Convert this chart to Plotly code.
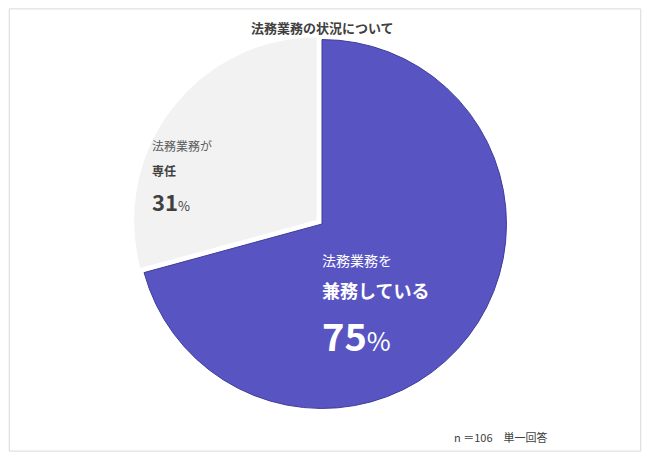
import plotly.graph_objects as go

labels = ["法務業務を兼務している", "法務業務が専任"]
values = [75, 31]
colors = ["#5855C3", "#F2F2F2"]

W, H = 634, 444
OFF = 8
def px(x): return (x - OFF) / W
def py(y): return 1 - (y - OFF) / H

fig = go.Figure(go.Pie(
    labels=labels, values=values, sort=False, direction="clockwise", rotation=0,
    marker=dict(colors=colors, line=dict(color=["#3E3C9A", "#FFFFFF"], width=[1, 2])),
    pull=[0, 0.03], textinfo="none", hoverinfo="label+value", showlegend=False,
    domain=dict(x=[px(132), px(512)], y=[py(414), py(34)]),
))

F = "Noto Sans CJK JP"
ann = [
    dict(x=px(322), y=py(27), text="<b>法務業務の状況について</b>", size=13, color="#404040", xa="center"),
    dict(x=px(150), y=py(145), text="法務業務が", size=12, color="#595959", xa="left"),
    dict(x=px(150), y=py(170), text="<b>専任</b>", size=12, color="#404040", xa="left"),
    dict(x=px(150), y=py(201), text="<b>31</b><span style='font-size:13px'>%</span>", size=22, color="#404040", xa="left"),
    dict(x=px(320), y=py(260), text="法務業務を", size=14, color="#FFFFFF", xa="left"),
    dict(x=px(320), y=py(290), text="<b>兼務している</b>", size=18, color="#FFFFFF", xa="left"),
    dict(x=px(320), y=py(334), text="<b>75</b><span style='font-size:26px'>%</span>", size=38, color="#FFFFFF", xa="left"),
    dict(x=px(452), y=py(437), text="n ＝106　単一回答", size=11, color="#404040", xa="left"),
]
fig.update_layout(
    width=W, height=H, margin=dict(l=0, r=0, t=0, b=0),
    paper_bgcolor="white", plot_bgcolor="white",
    font=dict(family=F),
    annotations=[dict(x=a["x"], y=a["y"], xref="paper", yref="paper", text=a["text"],
                      showarrow=False, xanchor=a["xa"], yanchor="middle",
                      font=dict(size=a["size"], color=a["color"], family=F)) for a in ann],
    shapes=[dict(type="rect", xref="paper", yref="paper", x0=0.002, x1=0.998, y0=0.002, y1=0.998,
                 line=dict(color="#D9D9D9", width=1))],
)
fig.write_html("out.html")
